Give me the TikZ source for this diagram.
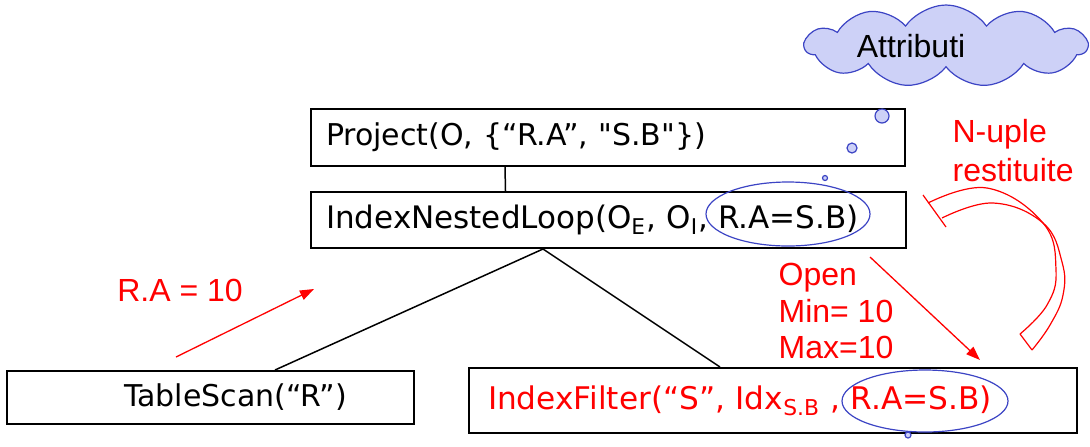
\documentclass[tikz,border=0pt]{standalone}
\usepackage{fontspec}
\setmainfont{Liberation Sans}
\newfontfamily\boxfont{DejaVu Sans}
\usetikzlibrary{arrows.meta, positioning, shapes.symbols}
\definecolor{cblue}{HTML}{3C44C4}
\definecolor{clav}{HTML}{CDD1F7}
\definecolor{cred}{HTML}{FF0000}
\tikzset{
  every picture/.style={line width=0.6pt},
  opbox/.style={draw=black, line width=1pt, align=left, inner xsep=7.5pt, inner ysep=0pt, font=\boxfont\fontsize{15}{18}\selectfont},
  note/.style={text=cred, align=left, inner sep=0pt, font=\fontsize{16}{18.3}\selectfont},
  flow/.style={-{Triangle[length=7pt, width=5pt]}, draw=cred, line width=0.65pt},
  edge/.style={draw=black, line width=0.75pt},
  hl/.style={draw=cblue, line width=0.6pt},
  bubble/.style={draw=cblue, fill=clav, line width=0.6pt},
  cloudy/.style={cloud, cloud puffs=11, cloud puff arc=110, cloud ignores aspect, draw=cblue, fill=clav, minimum width=141pt, minimum height=41pt, inner sep=0pt, font=\fontsize{16}{18}\selectfont},
}

\begin{document}
\begin{tikzpicture}[x=0.5pt, y=-0.5pt]
  \useasboundingbox (0,0) rectangle (1090,446);
  % operator tree
  \node[opbox, text width=282pt, minimum height=28.5pt] (proj) at (608,137.5) {Project(O, \{“R.A”, "S.B"\})};
  \node[opbox, text width=282.5pt, minimum height=28pt, font=\boxfont\fontsize{15.5}{18}\selectfont] (inl) at (608.5,220) {IndexNestedLoop(O\textsubscript{E}, O\textsubscript{I}, R.A=S.B)};
  \node[opbox, text width=188.5pt, minimum height=26.5pt] (scan) at (210.5,397.5) {\hspace*{51pt}TableScan(“R”)};
  \node[opbox, text=cred, text width=285pt, inner xsep=9.5pt, minimum height=32.5pt, font=\boxfont\fontsize{15.6}{18}\selectfont] (filt) at (773,400.5) {IndexFilter(“S”, Idx\textsubscript{S.B} , R.A=S.B)};
  \draw[edge] ([xshift=-51.5pt]proj.south) -- ([xshift=-51.5pt]inl.north);
  \draw[edge] ([xshift=-32.75pt]inl.south) -- ([xshift=32.25pt]scan.north);
  \draw[edge] ([xshift=-32.75pt]inl.south) -- ([xshift=-26.5pt]filt.north);
  % join attributes
  \draw[hl] (788,214) ellipse [x radius=82, y radius=32];
  \draw[hl] (925,401) ellipse [x radius=83, y radius=31];
  \node[cloudy] (attr) at (946,46) {Attributi\hspace*{35pt}};
  \draw[bubble] (882,116) circle [radius=7];
  \draw[bubble] (852,148) circle [radius=5];
  \draw[bubble] (825,178) circle [radius=2.5];
  \draw[bubble] (908,435) circle [radius=3];
  % messages
  \coordinate (raS) at (176,357);
  \coordinate (raE) at (314,289);
  \draw[flow] (raS) -- (raE);
  \node[note] (ralbl) at (180,290) {R.A = 10};
  \coordinate (opS) at (870,257);
  \coordinate (opE) at (980,360);
  \draw[flow] (opS) -- (opE);
  \node[note, anchor=west] (open) at (778,311) {Open\\Min= 10\\Max=10};
  \node[note, anchor=west, font=\fontsize{16}{19.5}\selectfont] (back) at (952,151) {N-uple\\restituite};
  % hollow return arrow
  \draw[draw=cred, line width=0.6pt] plot[smooth, tension=0.7] coordinates {(928,203) (987,188) (1043,223) (1056,270) (1047,305) (1020,334)};
  \draw[draw=cred, line width=0.6pt] plot[smooth, tension=0.7] coordinates {(942,218) (993,203) (1043,223) (1062,262) (1063,295) (1050,325) (1032,350)};
  \draw[draw=cred, line width=0.6pt] (1020,334) -- (1032,350);
  \draw[draw=cred, line width=0.6pt] (923,195) -- (946,227);
\end{tikzpicture}
\end{document}
